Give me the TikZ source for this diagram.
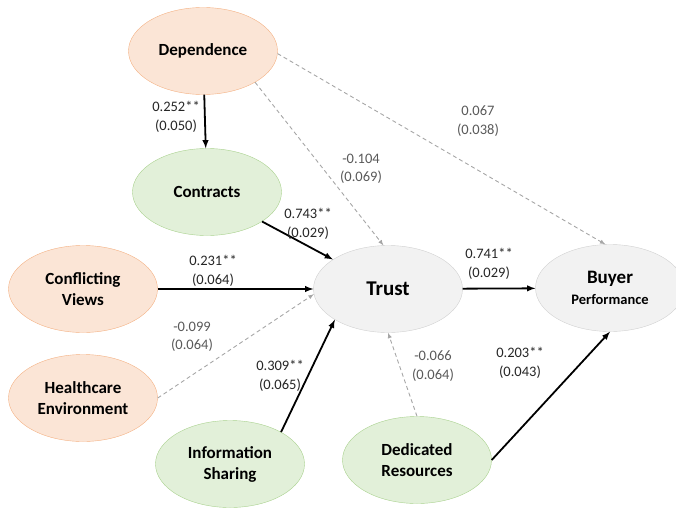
\documentclass[tikz,border=0pt]{standalone}
\usepackage{fontspec}
\setmainfont{Carlito}
\usetikzlibrary{shapes.geometric}

\definecolor{peachfill}{HTML}{FBE5D6}
\definecolor{peachline}{HTML}{F4B183}
\definecolor{sagefill}{HTML}{E2F0D9}
\definecolor{sageline}{HTML}{A9D18E}
\definecolor{mistfill}{HTML}{F2F2F2}
\definecolor{mistline}{HTML}{D0D0D0}
\definecolor{dashgray}{HTML}{A6A6A6}
\definecolor{inkdark}{HTML}{262626}
\definecolor{inkgray}{HTML}{595959}

\begin{document}
\begin{tikzpicture}[> = latex, x = 1pt, y = -1pt,
	construct/.style = {ellipse, minimum width = 149pt, minimum height = 87pt, inner sep = 0pt, align = center, font = \fontsize{17}{21}\selectfont\bfseries},
	antecedent/.style = {construct, draw = peachline, fill = peachfill},
	mechanism/.style = {construct, draw = sageline, fill = sagefill},
	result/.style = {construct, draw = mistline, fill = mistfill},
	sig/.style = {->, line width = 1.8pt, draw = black},
	nonsig/.style = {->, line width = 0.9pt, draw = dashgray, dash pattern = on 4pt off 3pt},
	sigtext/.style = {align = center, text = inkdark, font = \fontsize{14.5}{18.5}\selectfont},
	nonsigtext/.style = {sigtext, text = inkgray}]

	\useasboundingbox (0, 0) rectangle (676, 508);

	% Constructs

	\node [antecedent] (dep) at (203, 51) {Dependence};
	\node [mechanism] (con) at (207, 192) {Contracts};
	\node [antecedent] (cv) at (83, 289) {Conflicting\\Views};
	\node [antecedent] (hc) at (83, 398) {Healthcare\\Environment};
	\node [mechanism] (is) at (230, 464) {Information\\Sharing};
	\node [mechanism] (dr) at (417, 460) {Dedicated\\Resources};
	\node [result, font = \fontsize{21}{24}\selectfont\bfseries] (trust) at (388, 289) {Trust};
	\node [result] (buyer) at (610, 288) {{\fontsize{19}{20}\selectfont Buyer}\\{\fontsize{14.5}{18}\selectfont Performance}};

	% Significant paths

	\draw [sig] (dep) -- (con);
	\draw [sig] (con) -- (trust);
	\draw [sig] (cv) -- (trust);
	\draw [sig] (is.32) -- (trust.210);
	\draw [sig] (trust) -- (buyer);
	\draw [sig] (dr.east) -- (buyer.south);

	% Non-significant paths

	\draw [nonsig] (dep.-31) -- (trust.96);
	\draw [nonsig] (dep.-2) -- (buyer.96);
	\draw [nonsig] (hc.east) -- (trust.184);
	\draw [nonsig] (dr.north) -- (trust.south);

	% Path coefficients (standard errors)

	\node [sigtext] (depcon) at (176, 117) {0.252**\\(0.050)};
	\node [sigtext] (contrust) at (308, 224) {0.743**\\(0.029)};
	\node [sigtext] (cvtrust) at (213, 271) {0.231**\\(0.064)};
	\node [sigtext] (istrust) at (280, 376) {0.309**\\(0.065)};
	\node [sigtext] (trustbuyer) at (489, 264) {0.741**\\(0.029)};
	\node [sigtext] (drbuyer) at (520, 363) {0.203**\\(0.043)};
	\node [nonsigtext] (deptrust) at (361, 169) {-0.104\\(0.069)};
	\node [nonsigtext] (depbuyer) at (478, 121) {0.067\\(0.038)};
	\node [nonsigtext] (hctrust) at (192, 337) {-0.099\\(0.064)};
	\node [nonsigtext] (drtrust) at (433, 366) {-0.066\\(0.064)};

\end{tikzpicture}
\end{document}
